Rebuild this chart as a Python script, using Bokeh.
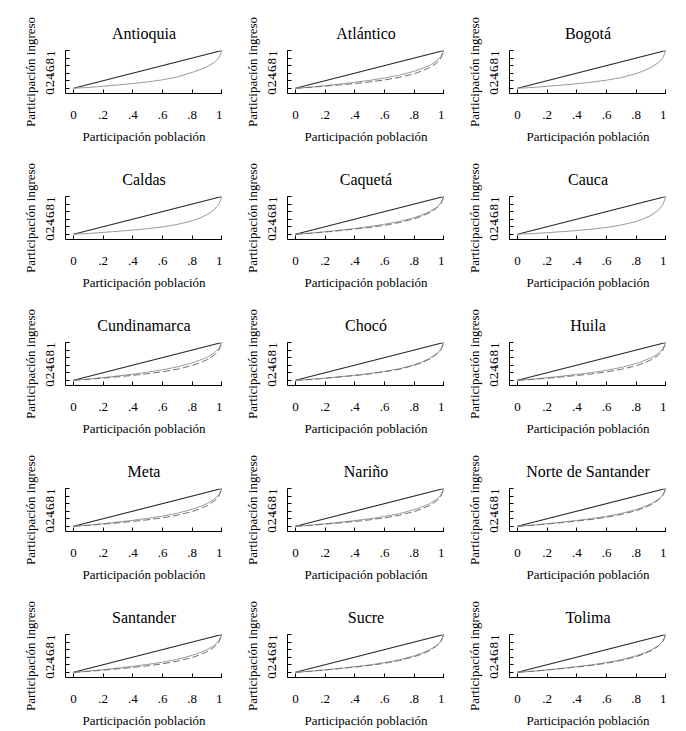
import math
from bokeh.plotting import figure
from bokeh.layouts import gridplot
from bokeh.models import Range1d, FixedTicker, CustomJSTickFormatter
from bokeh.embed import file_html
from bokeh.resources import INLINE

# ---------------- data ----------------
departamentos = ["Antioquia", "Atlántico", "Bogotá",
                 "Caldas", "Caquetá", "Cauca",
                 "Cundinamarca", "Chocó", "Huila",
                 "Meta", "Nariño", "Norte de Santander",
                 "Santander", "Sucre", "Tolima"]

# cumulative population share (x)
pob = [0, .1, .2, .3, .4, .5, .6, .7, .8, .85, .9, .95, .98, 1]

# Lorenz curve (solid grey) per department
antioquia = [0, .022, .055, .088, .125, .17, .225, .30, .42, .49, .57, .69, .81, 1]
atlantico = [0, .03, .07, .112, .16, .21, .27, .345, .45, .52, .60, .72, .84, 1]
bogota = [0, .022, .052, .085, .12, .163, .215, .285, .39, .46, .55, .68, .81, 1]
caldas = [0, .02, .05, .08, .113, .15, .195, .26, .36, .43, .52, .66, .80, 1]
caqueta = [0, .03, .068, .11, .155, .205, .265, .34, .44, .51, .59, .71, .83, 1]
cauca = [0, .018, .043, .07, .10, .135, .18, .245, .34, .41, .50, .64, .79, 1]
cundinamarca = [0, .032, .072, .115, .162, .215, .278, .355, .46, .53, .61, .73, .85, 1]
choco = [0, .025, .058, .095, .135, .18, .235, .305, .41, .48, .57, .70, .82, 1]
huila = [0, .03, .068, .11, .155, .205, .265, .34, .445, .515, .595, .715, .835, 1]
meta = [0, .03, .07, .112, .158, .21, .27, .345, .45, .52, .60, .72, .84, 1]
narino = [0, .03, .068, .108, .152, .20, .26, .335, .44, .51, .59, .71, .83, 1]
norte_santander = [0, .03, .068, .11, .155, .205, .265, .34, .445, .515, .595, .715, .835, 1]
santander = [0, .03, .07, .112, .158, .208, .268, .343, .448, .518, .598, .718, .838, 1]
sucre = [0, .028, .065, .105, .148, .196, .255, .33, .435, .505, .585, .705, .825, 1]
tolima = [0, .028, .065, .105, .15, .198, .258, .333, .438, .508, .588, .708, .828, 1]

# second Lorenz curve (dashed) where present
atlantico_b = [0, .024, .056, .09, .125, .168, .22, .29, .385, .455, .54, .665, .80, 1]
caqueta_b = [0, .026, .06, .097, .137, .182, .237, .31, .41, .48, .565, .69, .815, 1]
cundinamarca_b = [0, .026, .058, .093, .13, .173, .226, .294, .39, .46, .545, .67, .80, 1]
choco_b = [0, .022, .053, .088, .126, .17, .225, .292, .395, .465, .555, .685, .81, 1]
huila_b = [0, .024, .055, .09, .127, .17, .222, .29, .385, .455, .54, .665, .80, 1]
meta_b = [0, .024, .056, .091, .128, .172, .225, .293, .39, .46, .545, .67, .805, 1]
narino_b = [0, .024, .056, .09, .127, .17, .223, .292, .39, .46, .545, .67, .805, 1]
norte_santander_b = [0, .026, .06, .097, .138, .184, .24, .313, .415, .485, .57, .695, .82, 1]
santander_b = [0, .024, .056, .091, .128, .172, .225, .294, .39, .46, .545, .67, .805, 1]
sucre_b = [0, .026, .06, .097, .137, .182, .238, .31, .412, .482, .567, .692, .817, 1]
tolima_b = [0, .026, .06, .097, .138, .184, .24, .312, .414, .484, .57, .695, .82, 1]

curva_a = [antioquia, atlantico, bogota, caldas, caqueta, cauca,
           cundinamarca, choco, huila, meta, narino, norte_santander,
           santander, sucre, tolima]
curva_b = [None, atlantico_b, None, None, caqueta_b, None,
           cundinamarca_b, choco_b, huila_b, meta_b, narino_b, norte_santander_b,
           santander_b, sucre_b, tolima_b]

ticks = [0, 0.2, 0.4, 0.6, 0.8, 1]
igualdad = [0, 1]

FONT = "Liberation Serif"

fmt_code = """
if (Math.abs(tick) < 1e-9) return '0';
if (Math.abs(tick - 1) < 1e-9) return '1';
return '.' + Math.round(tick * 10).toString();
"""


def make_panel(name, ya, yb):
    p = figure(width=222, height=146,
               x_range=Range1d(-0.054, 1.004), y_range=Range1d(-0.138, 1.0),
               output_backend="svg", toolbar_location=None,
               min_border_left=65, min_border_right=0,
               min_border_top=50, min_border_bottom=50,
               title=name)
    p.title.align = "center"
    p.title.text_font = FONT
    p.title.text_font_size = "16px"
    p.title.text_font_style = "normal"
    p.title.text_color = "black"
    p.title.standoff = 17

    p.outline_line_color = None
    p.xgrid.visible = False
    p.ygrid.visible = False
    p.background_fill_color = "white"
    p.border_fill_color = "white"

    for ax in (p.xaxis[0], p.yaxis[0]):
        ax.ticker = FixedTicker(ticks=ticks)
        ax.formatter = CustomJSTickFormatter(code=fmt_code)
        ax.major_tick_in = 4
        ax.major_tick_out = 0
        ax.minor_tick_line_color = None
        ax.axis_line_color = "black"
        ax.major_tick_line_color = "black"
        ax.major_label_text_font = FONT
        ax.major_label_text_font_size = "13px"
        ax.major_label_text_color = "black"
        ax.axis_label_text_font = FONT
        ax.axis_label_text_font_size = "13px"
        ax.axis_label_text_font_style = "normal"
        ax.axis_label_text_color = "black"

    p.xaxis.axis_label = "Participación población"
    p.xaxis.major_label_standoff = 17
    p.xaxis.axis_label_standoff = 7
    p.yaxis.axis_label = "Participación ingreso"
    p.yaxis.major_label_orientation = math.pi / 2
    p.yaxis.major_label_standoff = 15
    p.yaxis.axis_label_standoff = 2

    p.line(igualdad, igualdad, line_color="#262626", line_width=1.1)
    p.line(pob, ya, line_color="#9a9a9a", line_width=1)
    if yb is not None:
        p.line(pob, yb, line_color="#707070", line_width=1, line_dash="7 3")
    return p


panels = [make_panel(n, a, b) for n, a, b in zip(departamentos, curva_a, curva_b)]
grid = gridplot(panels, ncols=3, toolbar_location=None)

open("out.html", "w").write(file_html(grid, INLINE))
